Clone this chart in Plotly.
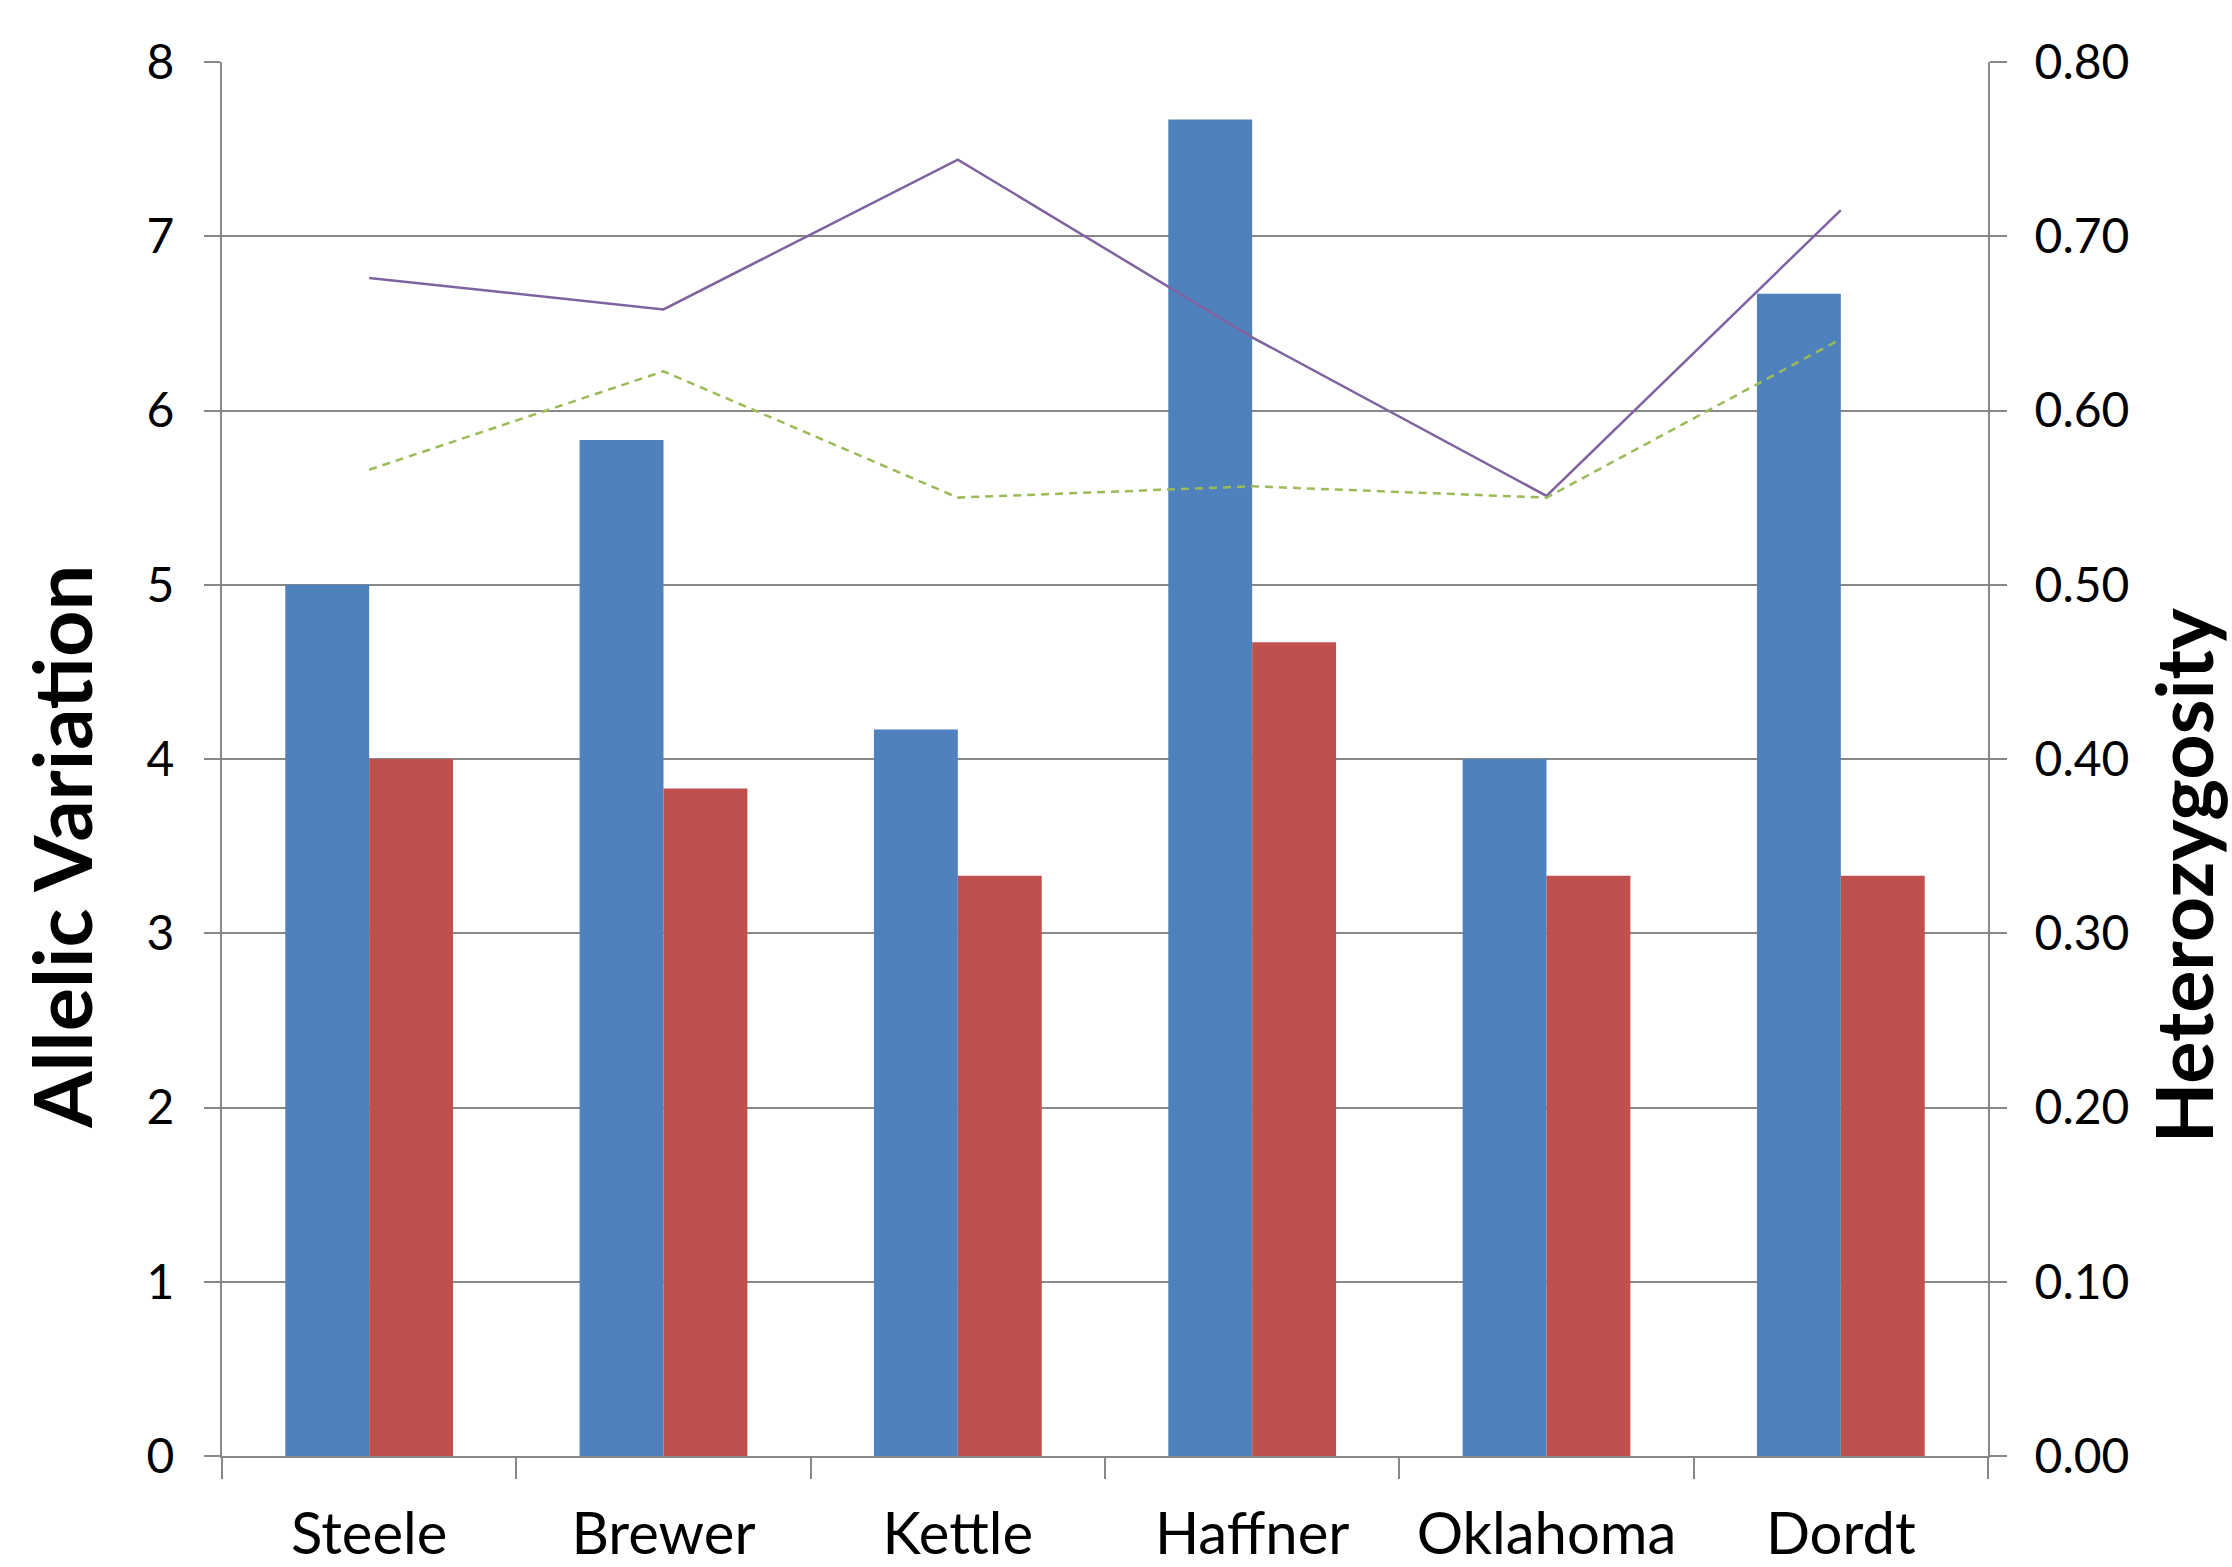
import plotly.graph_objects as go

categories = ["Steele", "Brewer", "Kettle", "Haffner", "Oklahoma", "Dordt"]
allelic_blue = [5.0, 5.83, 4.17, 7.67, 4.0, 6.67]
allelic_red = [4.0, 3.83, 3.33, 4.67, 3.33, 3.33]
het_solid = [0.676, 0.658, 0.744, 0.642, 0.551, 0.715]
het_dashed = [0.566, 0.6225, 0.550, 0.5565, 0.550, 0.641]

y_ticks = list(range(0, 9))
y2_ticks = [i / 10 for i in range(0, 9)]

GRID = "#888888"
FONT = "Lato"

fig = go.Figure()
fig.add_trace(go.Bar(x=categories, y=allelic_blue, marker=dict(color="#4F81BD", line=dict(width=0)),
                     name="Allelic blue"))
fig.add_trace(go.Bar(x=categories, y=allelic_red, marker=dict(color="#C0504D", line=dict(width=0)),
                     name="Allelic red"))
fig.add_trace(go.Scatter(x=categories, y=het_solid, yaxis="y2", mode="lines",
                         line=dict(color="#7F63A1", width=2.5), name="Het solid"))
fig.add_trace(go.Scatter(x=categories, y=het_dashed, yaxis="y2", mode="lines",
                         line=dict(color="#9BBB59", width=2.5, dash="8px,6px"), name="Het dashed"))

fig.update_layout(
    width=2232, height=1567, autosize=False,
    margin=dict(l=222, r=244, t=62, b=111),
    paper_bgcolor="white", plot_bgcolor="white",
    showlegend=False,
    barmode="group", bargap=0.43, bargroupgap=0,
    font=dict(family=FONT, color="black"),
    xaxis=dict(
        type="category", automargin=False,
        showline=True, linecolor=GRID, linewidth=2,
        ticks="outside", tickson="boundaries", ticklen=21, tickcolor=GRID, tickwidth=2,
        tickfont=dict(size=58, family=FONT, color="black"),
        ticklabelstandoff=26,
        showgrid=False,
    ),
    yaxis=dict(
        range=[0, 8], tickvals=y_ticks, automargin=False,
        showline=True, linecolor=GRID, linewidth=2,
        ticks="outside", ticklen=16, tickcolor=GRID, tickwidth=2,
        showgrid=True, gridcolor=GRID, gridwidth=2,
        zeroline=False,
        tickfont=dict(size=48, family=FONT, color="black"),
        ticklabelstandoff=20,
    ),
    yaxis2=dict(
        range=[0, 0.8], tickvals=y2_ticks, tickformat=".2f", automargin=False,
        overlaying="y", side="right",
        showline=True, linecolor=GRID, linewidth=2,
        ticks="outside", ticklen=17, tickcolor=GRID, tickwidth=2,
        showgrid=False, zeroline=False,
        tickfont=dict(size=48, family=FONT, color="black"),
        ticklabelstandoff=18,
    ),
    annotations=[
        dict(text="<b>Allelic Variation</b>", xref="paper", yref="paper",
             x=-0.0912, y=0.437, xanchor="center", yanchor="middle",
             textangle=-90, showarrow=False, font=dict(size=81, family=FONT, color="black")),
        dict(text="<b>Heterozygosity</b>", xref="paper", yref="paper",
             x=1.110, y=0.416, xanchor="center", yanchor="middle",
             textangle=-90, showarrow=False, font=dict(size=79, family=FONT, color="black")),
    ],
)

fig.write_html("out.html")
